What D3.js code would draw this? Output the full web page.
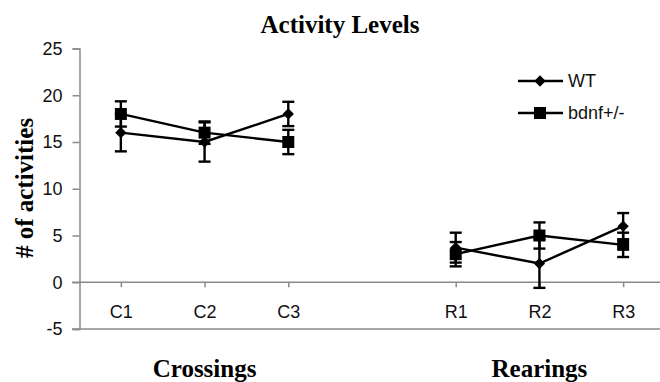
<!DOCTYPE html>
<html>
<head>
<meta charset="utf-8">
<script src="https://cdn.jsdelivr.net/npm/d3@7"></script>
<style>
  html, body { margin: 0; padding: 0; background: #fff; }
  svg { display: block; }
</style>
</head>
<body>
<svg id="chart" width="660" height="382"></svg>
<script>
// Category slots: three crossing trials, an empty spacer, three rearing trials
const categories = ["C1", "C2", "C3", "", "R1", "R2", "R3"];
const measured = ["C1", "C2", "C3", "R1", "R2", "R3"];

// Mean counts and error (SEM) per trial
const wtValues = [16, 15, 18, 3.7, 2, 6];
const wtErrors = [2, 2.1, 1.3, 1.6, 2.6, 1.4];
const bdnfValues = [18, 16, 15, 3, 5, 4];
const bdnfErrors = [1.35, 1.2, 1.3, 1.3, 1.4, 1.3];

const yTicks = [-5, 0, 5, 10, 15, 20, 25];
const groupLabels = ["Crossings", "Rearings"];

const svg = d3.select("#chart");
const axisColor = "#8a8a8a";

const x = d3.scalePoint().domain(categories).range([79, 665]).padding(0.5);
const y = d3.scaleLinear().domain([-5, 25]).range([329, 48.5]);

// Title
svg.append("text")
  .attr("x", 340).attr("y", 33)
  .attr("text-anchor", "middle")
  .style("font-family", "'Liberation Serif', 'Times New Roman', serif")
  .style("font-weight", "bold").style("font-size", "25px")
  .text("Activity Levels");

// Y axis title
svg.append("text")
  .attr("transform", "translate(33,188) rotate(-90)")
  .attr("text-anchor", "middle")
  .style("font-family", "'Liberation Serif', 'Times New Roman', serif")
  .style("font-weight", "bold").style("font-size", "25px")
  .text("# of activities");

// Y axis (plain hyphen for negative numbers)
const yAxis = svg.append("g")
  .attr("transform", "translate(79.5,0)")
  .call(d3.axisLeft(y).tickValues(yTicks).tickSize(7).tickPadding(10).tickFormat(d => String(d)));
yAxis.select(".domain").attr("stroke", axisColor).attr("stroke-width", 1.5);
yAxis.selectAll(".tick line").attr("stroke", axisColor).attr("stroke-width", 1.5);
yAxis.selectAll(".tick text")
  .style("font-family", "'Liberation Sans', Arial, sans-serif")
  .style("font-size", "18px").attr("fill", "#111");

// Zero line and bottom frame line
svg.append("line")
  .attr("x1", 72).attr("x2", 660)
  .attr("y1", y(0)).attr("y2", y(0))
  .attr("stroke", axisColor).attr("stroke-width", 1.5);
svg.append("line")
  .attr("x1", 72).attr("x2", 660)
  .attr("y1", y(-5)).attr("y2", y(-5))
  .attr("stroke", axisColor).attr("stroke-width", 1.5);

// Category axis along the zero line
const xAxis = svg.append("g")
  .attr("transform", `translate(0,${y(0)})`)
  .call(d3.axisBottom(x).tickValues(measured).tickSize(5).tickPadding(18));
xAxis.select(".domain").remove();
xAxis.selectAll(".tick line").attr("stroke", axisColor).attr("stroke-width", 1.5);
xAxis.selectAll(".tick text")
  .style("font-family", "'Liberation Sans', Arial, sans-serif")
  .style("font-size", "18px").attr("fill", "#111");

// Group labels under the category axis
const groupCenters = [
  (x("C1") + x("C3")) / 2,
  (x("R1") + x("R3")) / 2
];
svg.selectAll(".group-label")
  .data(groupLabels)
  .join("text")
  .attr("class", "group-label")
  .attr("x", (d, i) => groupCenters[i])
  .attr("y", 377)
  .attr("text-anchor", "middle")
  .style("font-family", "'Liberation Serif', 'Times New Roman', serif")
  .style("font-weight", "bold").style("font-size", "25px")
  .text(d => d);

// Series
function buildSeries(values, errors) {
  return measured.map((c, i) => ({ cat: c, v: values[i], e: errors[i] }));
}
const series = [
  { name: "WT", shape: d3.symbolDiamond2, size: 82, points: buildSeries(wtValues, wtErrors) },
  { name: "bdnf+/-", shape: d3.symbolSquare, size: 144, points: buildSeries(bdnfValues, bdnfErrors) }
];

const line = d3.line().x(d => x(d.cat)).y(d => y(d.v));
const capHalf = 6;
const strokeW = 2.4;

series.forEach(s => {
  const g = svg.append("g");
  // lines drawn separately for each group of trials
  const segments = [s.points.slice(0, 3), s.points.slice(3)];
  g.selectAll("path.seg")
    .data(segments)
    .join("path")
    .attr("class", "seg")
    .attr("d", line)
    .attr("fill", "none").attr("stroke", "#000").attr("stroke-width", strokeW);

  // error bars
  const eb = g.selectAll("g.err").data(s.points).join("g").attr("class", "err");
  eb.append("line")
    .attr("x1", d => x(d.cat)).attr("x2", d => x(d.cat))
    .attr("y1", d => y(d.v + d.e)).attr("y2", d => y(d.v - d.e))
    .attr("stroke", "#000").attr("stroke-width", strokeW);
  eb.append("line")
    .attr("x1", d => x(d.cat) - capHalf).attr("x2", d => x(d.cat) + capHalf)
    .attr("y1", d => y(d.v + d.e)).attr("y2", d => y(d.v + d.e))
    .attr("stroke", "#000").attr("stroke-width", strokeW);
  eb.append("line")
    .attr("x1", d => x(d.cat) - capHalf).attr("x2", d => x(d.cat) + capHalf)
    .attr("y1", d => y(d.v - d.e)).attr("y2", d => y(d.v - d.e))
    .attr("stroke", "#000").attr("stroke-width", strokeW);
});

// markers on top
series.forEach(s => {
  svg.append("g").selectAll("path")
    .data(s.points)
    .join("path")
    .attr("transform", d => `translate(${x(d.cat)},${y(d.v)})`)
    .attr("d", d3.symbol().type(s.shape).size(s.size))
    .attr("fill", "#000");
});

// Legend
const legend = svg.append("g").attr("transform", "translate(518,0)");
const legendRows = [81, 113];
series.forEach((s, i) => {
  const row = legend.append("g").attr("transform", `translate(0,${legendRows[i]})`);
  row.append("line").attr("x1", 0).attr("x2", 45)
    .attr("stroke", "#000").attr("stroke-width", strokeW);
  row.append("path")
    .attr("transform", "translate(22,0)")
    .attr("d", d3.symbol().type(s.shape).size(s.size))
    .attr("fill", "#000");
  row.append("text")
    .attr("x", 50).attr("y", 0).attr("dy", "0.35em")
    .style("font-family", "'Liberation Sans', Arial, sans-serif")
    .style("font-size", "18px").attr("fill", "#111")
    .text(s.name);
});
</script>
</body>
</html>
